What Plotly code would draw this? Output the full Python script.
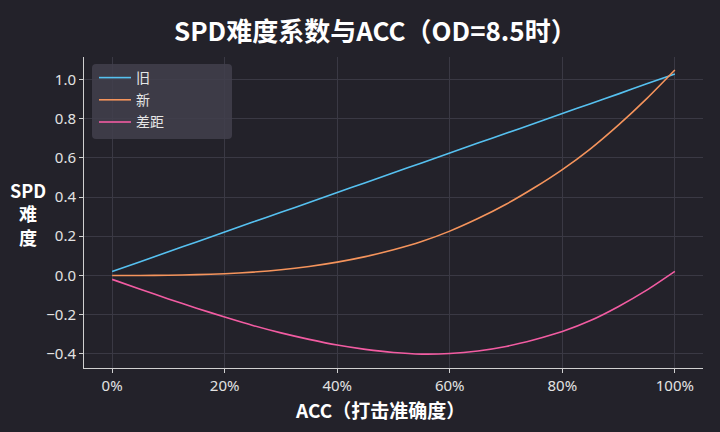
import plotly.graph_objects as go
import re

acc = [0.0, 0.05, 0.10, 0.15, 0.20, 0.25, 0.30, 0.35, 0.40, 0.45, 0.50,
       0.55, 0.60, 0.65, 0.70, 0.75, 0.80, 0.85, 0.90, 0.95, 1.00]
old_spd = [0.020, 0.070, 0.121, 0.171, 0.221, 0.272, 0.322, 0.372, 0.423, 0.473, 0.524,
           0.574, 0.624, 0.675, 0.725, 0.775, 0.826, 0.876, 0.926, 0.977, 1.027]
new_spd = [0.000, 0.000, 0.001, 0.004, 0.009, 0.017, 0.029, 0.046, 0.068, 0.096, 0.131,
           0.173, 0.226, 0.290, 0.363, 0.447, 0.540, 0.646, 0.768, 0.902, 1.048]
gap_spd = [-0.020, -0.070, -0.120, -0.167, -0.212, -0.255, -0.293, -0.326, -0.355, -0.377, -0.393,
           -0.401, -0.398, -0.385, -0.362, -0.328, -0.286, -0.230, -0.158, -0.075, 0.021]
series_names = ["旧", "新", "差距"]
x_ticks = [0, 0.2, 0.4, 0.6, 0.8, 1.0]
y_ticks = [-0.4, -0.2, 0.0, 0.2, 0.4, 0.6, 0.8, 1.0]

colors = ["#56c1f0", "#f5945c", "#f25ca2"]
bg = "#23222a"
font_cjk = "Noto Sans CJK SC"

fig = go.Figure()
for i, (name, ys, c) in enumerate(zip(series_names, [old_spd, new_spd, gap_spd], colors)):
    fig.add_trace(go.Scatter(x=acc, y=ys, mode="lines", name=name, legendgroup=f"g{i}",
                             line=dict(color=c, width=1.6, shape="spline", smoothing=0.6)))

W, H = 720, 432
L, R, T, B = 84, 17, 57, 64
pw, ph = W - L - R, H - T - B

def px(x):
    return (x - L) / pw

def py(y):
    return (H - B - y) / ph

axis_common = dict(
    showgrid=True, gridcolor="#3a3944", gridwidth=1,
    showline=True, linecolor="#d0d0d0", linewidth=1, mirror=False,
    ticks="outside", ticklen=4, tickcolor="#d0d0d0", tickwidth=1,
    tickfont=dict(family="Noto Sans", size=15, color="#e2e2e2"),
    zeroline=False,
)

fig.update_layout(
    width=W, height=H,
    margin=dict(l=L, r=R, t=T, b=B, autoexpand=False),
    paper_bgcolor=bg, plot_bgcolor=bg,
    showlegend=True,
    legend=dict(x=px(94), y=py(62), xanchor="left", yanchor="top",
                bgcolor="rgba(0,0,0,0)", borderwidth=0,
                font=dict(family=font_cjk, size=14, color="#e6e6e6"),
                tracegroupgap=1, traceorder="grouped",
                itemwidth=32),
    xaxis=dict(range=[-0.05, 1.05], tickvals=x_ticks, tickformat=".0%", **axis_common),
    yaxis=dict(range=[-0.472, 1.114], tickvals=y_ticks, tickformat=".1f", **axis_common),
)

# rounded legend background box
x0, x1, y0, y1, r = 92, 232, 64, 139, 4
path = (f"M {x0 + r},{y0} L {x1 - r},{y0} Q {x1},{y0} {x1},{y0 + r} "
        f"L {x1},{y1 - r} Q {x1},{y1} {x1 - r},{y1} L {x0 + r},{y1} "
        f"Q {x0},{y1} {x0},{y1 - r} L {x0},{y0 + r} Q {x0},{y0} {x0 + r},{y0} Z")

def conv(m):
    a, b = float(m.group(1)), float(m.group(2))
    return f"{px(a):.5f},{py(b):.5f}"

path_paper = re.sub(r"([\d.]+),([\d.]+)", conv, path)
fig.add_shape(type="path", path=path_paper, xref="paper", yref="paper",
              fillcolor="rgba(66,63,76,0.85)", line=dict(width=0), layer="above")

fig.add_annotation(text="<b>SPD难度系数与ACC（OD=8.5时）</b>", xref="paper", yref="paper",
                   x=px(375), y=py(29), xanchor="center", yanchor="middle", showarrow=False,
                   font=dict(family=font_cjk, size=26, color="#ffffff"))
fig.add_annotation(text="<b>ACC（打击准确度）</b>", xref="paper", yref="paper",
                   x=px(380), y=py(409), xanchor="center", yanchor="middle", showarrow=False,
                   font=dict(family=font_cjk, size=19, color="#ffffff"))
fig.add_annotation(text="<b>SPD</b><br><b>难</b><br><b>度</b>", xref="paper", yref="paper",
                   x=px(28), y=py(213), xanchor="center", yanchor="middle", showarrow=False,
                   font=dict(family=font_cjk, size=18, color="#ffffff"))

fig.write_html("out.html", config={"displayModeBar": False},
               post_script="document.body.style.margin='0';document.body.style.background='%s';" % bg)
